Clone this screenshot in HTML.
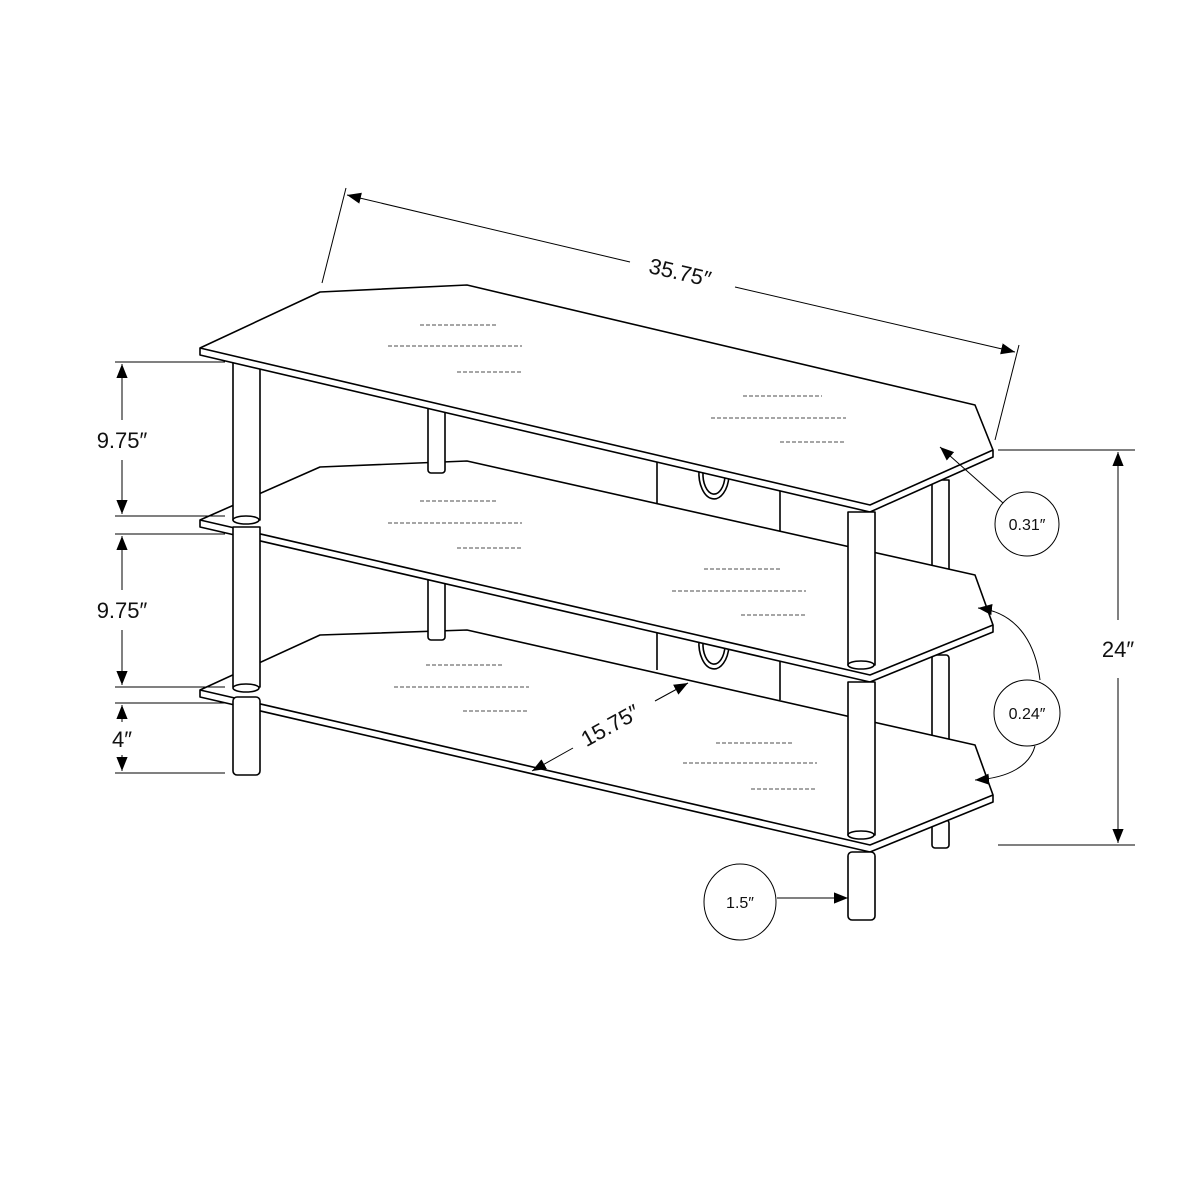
<!DOCTYPE html>
<html><head><meta charset="utf-8"><style>
html,body{margin:0;padding:0;background:#fff;width:1200px;height:1200px;overflow:hidden}
svg{display:block}
text{font-family:"Liberation Sans",sans-serif;fill:#111}
</style></head><body>
<svg width="1200" height="1200" viewBox="0 0 1200 1200" xmlns="http://www.w3.org/2000/svg">
<defs>
<marker id="ab" viewBox="0 0 10 10" refX="10" refY="5" markerWidth="14" markerHeight="14" orient="auto-start-reverse" markerUnits="userSpaceOnUse"><path d="M0,1 L10,5 L0,9 z" fill="#000"/></marker>
</defs>
<g fill="#fff" stroke="#000" stroke-width="1.6" stroke-linejoin="round">
<rect x="932" y="480" width="17" height="110"/>
<rect x="932" y="655" width="17" height="103" rx="3"/>
<rect x="932" y="820" width="17" height="28" rx="3"/>
<line x1="657" y1="458" x2="657" y2="670"/>
<line x1="780" y1="488" x2="780" y2="700"/>
<path d="M703,472 A11,20 0 0 0 725,476" fill="none"/>
<path d="M699,470 A14,24 0 0 0 729,476" fill="none"/>
<path d="M703,642 A11,20 0 0 0 725,646" fill="none"/>
<path d="M699,640 A14,24 0 0 0 729,646" fill="none"/>
<path d="M200,690 L320,635 L467,630 L975,745 L993,795 L993,802 L870,852 L200,697 Z"/>
<path d="M200,690 L870,845 L993,795" fill="none"/>
<rect x="428" y="575" width="17" height="65" rx="3"/>
<path d="M200,520 L320,467 L467,461 L975,575 L993,625 L993,632 L870,682 L200,527 Z"/>
<path d="M200,520 L870,675 L993,625" fill="none"/>
<rect x="428" y="405" width="17" height="68" rx="3"/>
<rect x="233" y="355" width="27" height="165"/>
<ellipse cx="246" cy="520" rx="13" ry="4"/>
<rect x="233" y="527" width="27" height="160"/>
<ellipse cx="246" cy="688" rx="13" ry="4"/>
<rect x="233" y="697" width="27" height="78" rx="4"/>
<path d="M200,348 L320,292 L467,285 L975,405 L993,450 L993,457 L870,512 L200,355 Z"/>
<path d="M200,348 L870,505 L993,450" fill="none"/>
<rect x="848" y="512" width="27" height="153"/>
<ellipse cx="861" cy="665" rx="13" ry="4"/>
<rect x="848" y="682" width="27" height="153"/>
<ellipse cx="861" cy="835" rx="13" ry="4"/>
<rect x="848" y="852" width="27" height="68" rx="4"/>
</g>
<g stroke="#888" stroke-width="1.5" stroke-dasharray="4 2">
<line x1="420" y1="325" x2="498" y2="325"/><line x1="388" y1="346" x2="522" y2="346"/><line x1="457" y1="372" x2="522" y2="372"/>
<line x1="743" y1="396" x2="822" y2="396"/><line x1="711" y1="418" x2="846" y2="418"/><line x1="780" y1="442" x2="846" y2="442"/>
<line x1="420" y1="501" x2="498" y2="501"/><line x1="388" y1="523" x2="522" y2="523"/><line x1="457" y1="548" x2="522" y2="548"/>
<line x1="704" y1="569" x2="781" y2="569"/><line x1="672" y1="591" x2="806" y2="591"/><line x1="741" y1="615" x2="806" y2="615"/>
<line x1="426" y1="665" x2="503" y2="665"/><line x1="394" y1="687" x2="529" y2="687"/><line x1="463" y1="711" x2="527" y2="711"/>
<line x1="716" y1="743" x2="793" y2="743"/><line x1="683" y1="763" x2="817" y2="763"/><line x1="751" y1="789" x2="817" y2="789"/>
</g>
<g stroke="#000" stroke-width="1" fill="none">
<line x1="322" y1="283" x2="346" y2="188"/>
<line x1="995" y1="440" x2="1019" y2="345"/>
<line x1="347" y1="195" x2="630" y2="262" marker-start="url(#ab)"/>
<line x1="735" y1="287" x2="1015" y2="352" marker-end="url(#ab)"/>
<line x1="115" y1="362" x2="225" y2="362"/><line x1="115" y1="516" x2="225" y2="516"/>
<line x1="115" y1="534" x2="225" y2="534"/><line x1="115" y1="687" x2="225" y2="687"/>
<line x1="115" y1="703" x2="225" y2="703"/><line x1="115" y1="773" x2="225" y2="773"/>
<line x1="122" y1="364" x2="122" y2="420" marker-start="url(#ab)"/>
<line x1="122" y1="460" x2="122" y2="514" marker-end="url(#ab)"/>
<line x1="122" y1="536" x2="122" y2="590" marker-start="url(#ab)"/>
<line x1="122" y1="630" x2="122" y2="685" marker-end="url(#ab)"/>
<line x1="122" y1="705" x2="122" y2="722" marker-start="url(#ab)"/>
<line x1="122" y1="755" x2="122" y2="771" marker-end="url(#ab)"/>
<line x1="998" y1="450" x2="1135" y2="450"/><line x1="998" y1="845" x2="1135" y2="845"/>
<line x1="1118" y1="452" x2="1118" y2="620" marker-start="url(#ab)"/>
<line x1="1118" y1="678" x2="1118" y2="843" marker-end="url(#ab)"/>
<line x1="573" y1="748" x2="532" y2="771" marker-end="url(#ab)"/>
<line x1="655" y1="701" x2="688" y2="683" marker-end="url(#ab)"/>
<circle cx="1027" cy="524" r="32"/>
<circle cx="1027" cy="713" r="33"/>
<ellipse cx="740" cy="902" rx="36" ry="38"/>
<line x1="1003" y1="503" x2="940" y2="447" marker-end="url(#ab)"/>
<path d="M1040,680 C1035,640 1015,612 978,608" marker-end="url(#ab)"/>
<path d="M1035,746 C1030,765 1010,778 975,780" marker-end="url(#ab)"/>
<line x1="777" y1="898" x2="848" y2="898" marker-end="url(#ab)"/>
</g>
<g font-size="22">
<text x="680" y="280" text-anchor="middle" transform="rotate(13 680 273)">35.75″</text>
<text x="122" y="448" text-anchor="middle">9.75″</text>
<text x="122" y="618" text-anchor="middle">9.75″</text>
<text x="122" y="747" text-anchor="middle">4″</text>
<text x="1118" y="657" text-anchor="middle">24″</text>
<text x="610" y="733" text-anchor="middle" transform="rotate(-29 610 725)">15.75″</text>
</g>
<g font-size="16">
<text x="1027" y="530" text-anchor="middle">0.31″</text>
<text x="1027" y="719" text-anchor="middle">0.24″</text>
<text x="740" y="908" text-anchor="middle">1.5″</text>
</g>
</svg>
</body></html>
